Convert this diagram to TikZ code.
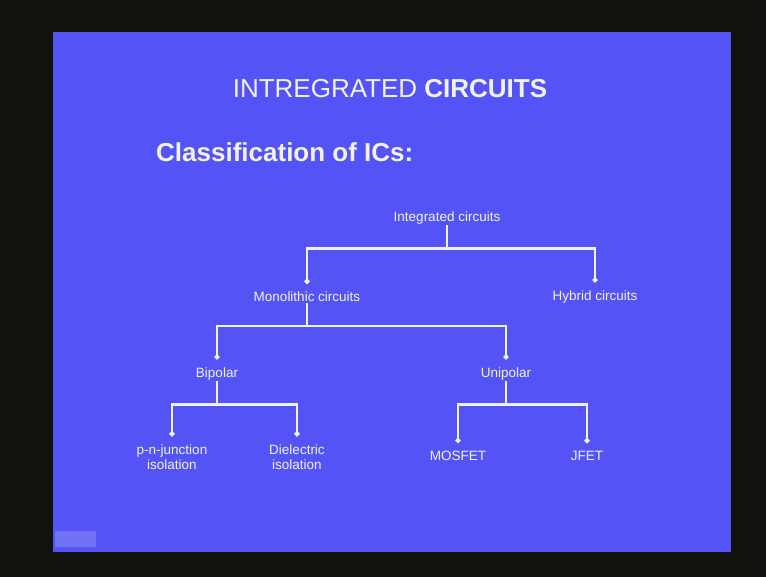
\documentclass[tikz,border=0pt]{standalone}
\usepackage{fontspec}
\setmainfont{Liberation Sans}
\usetikzlibrary{arrows.meta}

\definecolor{slideblue}{RGB}{84,84,246}
\definecolor{chalk}{RGB}{242,242,232}
\definecolor{frame}{RGB}{18,18,12}

\begin{document}
\begin{tikzpicture}[x=1pt, y=-1pt,
			every node/.style = {text=chalk, align=center, inner sep=1pt,
					font=\fontsize{13.5}{15}\selectfont},
				branch/.style={draw=chalk, line width=2.2pt,
					-{Circle[length=5pt]}, shorten >=7pt}]
			\fill[frame] (0,0) rectangle (766,577);
			\fill[slideblue] (53,32) rectangle (731,552);
			\fill[slideblue!70!white, opacity=0.6] (55,531) rectangle (96,547);
			% headings
			\node[font=\fontsize{26}{28}\selectfont] (title) at (390,89) {INTREGRATED \textbf{CIRCUITS}};
			\node[anchor=west, font=\fontsize{26}{28}\selectfont\bfseries] (sub) at (155,152) {Classification of ICs:};
			% tree
			\node (root) at (447,218) {Integrated circuits};
			\node (mono) at (307,297) {Monolithic circuits};
			\node (hyb) at (595,297) {Hybrid circuits};
			\node (bip) at (217,374) {Bipolar};
			\node (uni) at (506,374) {Unipolar};
			\node (pn) at (172,457) {p-n-junction\\isolation};
			\node (die) at (297,457) {Dielectric\\isolation};
			\node (mos) at (458,456) {MOSFET};
			\node (jfet) at (587,456) {JFET};
			\foreach \p/\c in {root/mono, root/hyb, mono/bip, mono/uni,
					bip/pn, bip/die, uni/mos, uni/jfet}
				\draw[branch] (\p.south) -- ++(0,23) -| (\c.north);
		\end{tikzpicture}
\end{document}
